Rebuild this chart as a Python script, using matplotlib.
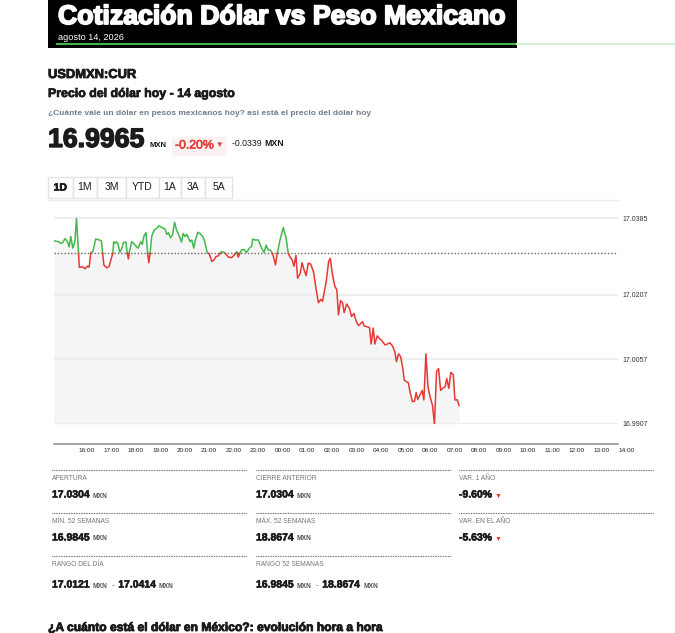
import numpy as np
import matplotlib
matplotlib.use("Agg")
import matplotlib.pyplot as plt
import matplotlib.patheffects as pe
from matplotlib.patches import Rectangle
from matplotlib.lines import Line2D

# datos USD/MXN intradía
times = [
    "15:00", "15:11", "15:16", "15:21", "15:27", "15:33", "15:37", "15:41", "15:46", "15:51",
    "15:55", "16:00", "16:02", "16:09", "16:16", "16:22", "16:26", "16:30", "16:35", "16:42",
    "16:48", "16:56", "16:59", "17:02", "17:09", "17:15", "17:19", "17:24", "17:26", "17:30",
    "17:33", "17:37", "17:41", "17:46", "17:50", "17:56", "17:59", "18:02", "18:04", "18:10",
    "18:16", "18:22", "18:26", "18:32", "18:36", "18:40", "18:45", "18:49", "18:52", "18:55",
    "18:59", "19:05", "19:11", "19:17", "19:24", "19:32", "19:36", "19:40", "19:45", "19:50",
    "19:55", "20:00", "20:07", "20:12", "20:16", "20:21", "20:25", "20:29", "20:33", "20:37",
    "20:42", "20:46", "20:52", "20:57", "21:04", "21:09", "21:15", "21:20", "21:26", "21:31",
    "21:36", "21:42", "21:50", "21:58", "22:07", "22:15", "22:19", "22:25", "22:27", "22:31",
    "22:35", "22:39", "22:45", "22:51", "22:58", "23:04", "23:06", "23:12", "23:20", "23:28",
    "23:34", "23:39", "23:44", "23:50", "23:55", "00:02", "00:06", "00:13", "00:21", "00:28",
    "00:33", "00:37", "00:43", "00:47", "00:52", "00:56", "01:02", "01:07", "01:12", "01:17",
    "01:22", "01:28", "01:35", "01:41", "01:47", "01:53", "01:57", "02:06", "02:12", "02:16",
    "02:21", "02:27", "02:32", "02:36", "02:41", "02:46", "02:50", "02:56", "03:03", "03:08",
    "03:14", "03:19", "03:25", "03:30", "03:35", "03:39", "03:47", "03:52", "03:56", "04:01",
    "04:05", "04:11", "04:16", "04:22", "04:30", "04:36", "04:42", "04:49", "04:54", "04:58",
    "05:03", "05:08", "05:13", "05:17", "05:23", "05:27", "05:31", "05:37", "05:42", "05:46",
    "05:50", "05:56", "06:01", "06:05", "06:10", "06:15", "06:20", "06:26", "06:31", "06:36",
    "06:41", "06:46", "06:51", "06:57", "07:01", "07:06", "07:11", "07:17", "07:21", "07:27",
    "07:31",
]
prices = [
    17.0333, 17.0331, 17.0327, 17.0329, 17.0338, 17.0331, 17.0319, 17.0343, 17.0316, 17.0331,
    17.0385, 17.0305, 17.0271, 17.0273, 17.0268, 17.0274, 17.0272, 17.0305, 17.0308, 17.0337,
    17.0336, 17.0333, 17.0305, 17.0277, 17.0270, 17.0274, 17.0288, 17.0305, 17.0331, 17.0327,
    17.0331, 17.0325, 17.0306, 17.0316, 17.0329, 17.0330, 17.0305, 17.0291, 17.0305, 17.0331,
    17.0326, 17.0319, 17.0316, 17.0331, 17.0325, 17.0344, 17.0352, 17.0305, 17.0282, 17.0303,
    17.0343, 17.0358, 17.0362, 17.0368, 17.0364, 17.0360, 17.0348, 17.0352, 17.0340, 17.0347,
    17.0376, 17.0358, 17.0343, 17.0330, 17.0350, 17.0343, 17.0348, 17.0340, 17.0331, 17.0335,
    17.0316, 17.0335, 17.0353, 17.0350, 17.0343, 17.0331, 17.0305, 17.0303, 17.0285, 17.0288,
    17.0296, 17.0298, 17.0308, 17.0305, 17.0295, 17.0294, 17.0298, 17.0305, 17.0308, 17.0295,
    17.0305, 17.0312, 17.0313, 17.0306, 17.0316, 17.0321, 17.0337, 17.0335, 17.0335, 17.0316,
    17.0306, 17.0323, 17.0312, 17.0311, 17.0303, 17.0277, 17.0303, 17.0335, 17.0364, 17.0339,
    17.0305, 17.0296, 17.0288, 17.0274, 17.0299, 17.0246, 17.0256, 17.0282, 17.0265, 17.0252,
    17.0281, 17.0279, 17.0261, 17.0223, 17.0189, 17.0197, 17.0192, 17.0238, 17.0285, 17.0292,
    17.0257, 17.0228, 17.0219, 17.0161, 17.0194, 17.0189, 17.0166, 17.0186, 17.0176, 17.0157,
    17.0164, 17.0147, 17.0136, 17.0140, 17.0145, 17.0135, 17.0133, 17.0131, 17.0093, 17.0130,
    17.0093, 17.0112, 17.0106, 17.0101, 17.0091, 17.0093, 17.0096, 17.0087, 17.0075, 17.0052,
    17.0070, 17.0064, 17.0040, 17.0009, 17.0005, 17.0003, 16.9982, 16.9959, 16.9960, 16.9980,
    16.9964, 16.9976, 16.9985, 16.9963, 17.0070, 16.9994, 16.9971, 16.9951, 16.9906, 17.0029,
    17.0036, 16.9985, 16.9990, 16.9994, 17.0013, 16.9990, 17.0027, 17.0022, 16.9963, 16.9963,
    16.9950,
]
prev_close = 17.0304
y_ticks = [16.9907, 17.0057, 17.0207, 17.0385]
x_labels = ["16:00", "17:00", "18:00", "19:00", "20:00", "21:00", "22:00", "23:00",
            "00:00", "01:00", "02:00", "03:00", "04:00", "05:00", "06:00", "07:00",
            "08:00", "09:00", "10:00", "11:00", "12:00", "13:00", "14:00"]
ranges = ["1D", "1M", "3M", "YTD", "1A", "3A", "5A"]

# tabla de datos
stat_labels = [["APERTURA", "MÍN. 52 SEMANAS", "RANGO DEL DÍA"],
               ["CIERRE ANTERIOR", "MÁX. 52 SEMANAS", "RANGO 52 SEMANAS"],
               ["VAR. 1 AÑO", "VAR. EN EL AÑO"]]
stat_values = [[["17.0304"], ["16.9845"], ["17.0121", "17.0414"]],
               [["17.0304"], ["18.8674"], ["16.9845", "18.8674"]]]
var_values = ["-9.60%", "-5.63%"]

W, H = 675, 633
GREEN = "#43b94d"
RED = "#e53935"
DARK = "#1b1b1b"

plt.rcParams["font.family"] = ["Liberation Sans", "DejaVu Sans"]

fig = plt.figure(figsize=(W / 100, H / 100), dpi=100)
renderer = fig.canvas.get_renderer()


def fx(x):
    return x / W


def fy(y):
    return 1 - y / H


def heavy(color, lw=0.5):
    return [pe.withStroke(linewidth=lw, foreground=color)]


def txt(x, y, s, stroke=0, **kw):
    kw.setdefault("va", "baseline")
    kw.setdefault("color", DARK)
    t = fig.text(fx(x), fy(y), s, **kw)
    if stroke:
        t.set_path_effects(heavy(kw["color"], stroke))
    return t


def after(t, gap=0):
    # devuelve x (pixeles) del final del texto
    return t.get_window_extent(renderer).x1 + gap


def hline(x0, x1, y, **kw):
    fig.add_artist(Line2D([fx(x0), fx(x1)], [fy(y), fy(y)], transform=fig.transFigure, **kw))


# cabecera negra
fig.add_artist(Rectangle((fx(48), fy(48)), (517 - 48) / W, 48 / H,
                         transform=fig.transFigure, color="black", lw=0))
txt(58, 24, "Cotización Dólar vs Peso Mexicano", color="white", fontsize=19.2,
    fontweight="bold", stroke=1.3)
txt(58, 40, "agosto 14, 2026", color="white", fontsize=6.6)
hline(57, 517, 43.5, color="#3db54a", lw=1.5)
hline(517, 675, 43.5, color="#d3efd7", lw=1.5)

txt(48, 78, "USDMXN:CUR", fontsize=9.3, fontweight="bold", stroke=0.6)
txt(48, 97, "Precio del dólar hoy - 14 agosto", fontsize=8.9, fontweight="bold", stroke=0.5)
txt(48, 115, "¿Cuánte vale un dólar en pesos mexicanos hoy? asi está el precio del dólar hoy",
    fontsize=6, fontweight="bold", color="#6f7d8c")

# precio actual
fig.add_artist(Rectangle((fx(172), fy(156)), 55 / W, 19 / H,
                         transform=fig.transFigure, color="#fdf2f2", lw=0))
txt(48, 147, "16.9965", fontsize=19.2, fontweight="bold", stroke=1.0)
txt(150, 147, "MXN", fontsize=5.6, fontweight="bold")
t = txt(175, 148.5, "-0.20%", fontsize=8.8, color=RED, stroke=0.4)
txt(after(t, 2), 147, "▼", fontsize=5.5, color=RED)
t = txt(232, 146.5, "-0.0339 ", fontsize=6.3)
txt(after(t), 146.5, "MXN", fontsize=6.3, fontweight="bold")

# botones de rango
edges = [48, 72.5, 97.5, 126, 158.5, 181, 205, 232]
for i, lab in enumerate(ranges):
    x0, x1 = edges[i], edges[i + 1]
    fig.add_artist(Rectangle((fx(x0), fy(197.5)), (x1 - x0) / W, 20.5 / H,
                             transform=fig.transFigure, facecolor="white",
                             edgecolor="#e3e3e3", lw=1))
    txt((x0 + x1) / 2, 187.5, lab, fontsize=7.5, ha="center", va="center",
        fontweight="bold" if lab == "1D" else "normal", stroke=0.5 if lab == "1D" else 0)
hline(48, 620, 199.5, color="#efefef", lw=1)

# gráfico
hrs = np.array([((int(s[:2]) * 60 + int(s[3:]) - 900) % 1440) / 60 for s in times])
vals = np.array(prices)

# insertar cruces con el cierre anterior para colorear
xs, ys = [hrs[0]], [vals[0]]
for i in range(1, len(hrs)):
    a, b = vals[i - 1] - prev_close, vals[i] - prev_close
    if a * b < 0:
        xc = hrs[i - 1] + (-a) / (b - a) * (hrs[i] - hrs[i - 1])
        xs.append(xc)
        ys.append(prev_close)
    xs.append(hrs[i])
    ys.append(vals[i])
xs, ys = np.array(xs), np.array(ys)

ax = fig.add_axes([fx(54), fy(424), (618 - 54) / W, (424 - 210) / H])
ax.set_xlim(0, 23)
ax.set_ylim(16.9907, 16.9907 + 214 / 4300)

ax.fill_between(xs, ys, 16.9907, color="#f5f5f5", lw=0, zorder=0.5)
for v in y_ticks:
    ax.axhline(v, color="#eeeeee", lw=1.6, zorder=1)
ax.axhline(prev_close, color="#666666", lw=1, ls=(0, (1, 1.4)), zorder=2)
ax.plot(xs, np.where(ys >= prev_close, ys, np.nan), color=GREEN, lw=1.1, zorder=3)
ax.plot(xs, np.where(ys <= prev_close, ys, np.nan), color=RED, lw=1.1, zorder=3)

for s in ["top", "left", "right"]:
    ax.spines[s].set_visible(False)
ax.spines["bottom"].set_position(("outward", 14.4))
ax.spines["bottom"].set_color("#8c8c8c")
ax.spines["bottom"].set_linewidth(1.1)

ax.set_xticks(np.arange(1, 24))
ax.set_xticklabels(x_labels, ha="left")
ax.tick_params(axis="x", length=0, pad=3, labelsize=4.6, labelcolor="#222222")
ax.yaxis.tick_right()
ax.set_yticks(y_ticks)
ax.set_yticklabels([f"{v:.4f}" for v in y_ticks])
ax.tick_params(axis="y", length=0, pad=3, labelsize=5, labelcolor="#333333")

# tabla
col_x = [52, 256, 459]
row_dot = [470, 513, 556]
row_val = [497.5, 540.5, 587.5]
for c, labs in enumerate(stat_labels):
    for r, lab in enumerate(labs):
        hline(col_x[c], col_x[c] + 194, row_dot[r], color="#333333", lw=0.8, ls=(0, (0.6, 0.9)))
        txt(col_x[c], row_dot[r] + 10, lab, fontsize=4.8, color="#777777")
        if c < 2:
            nums = stat_values[c][r]
            x = col_x[c]
            for k, n in enumerate(nums):
                t = txt(x, row_val[r], n, fontsize=7.5, fontweight="bold", stroke=0.4)
                t = txt(after(t, 3), row_val[r], "MXN", fontsize=4.8, fontweight="bold", color="#555555")
                x = after(t)
                if k == 0 and len(nums) > 1:
                    t = txt(x + 4, row_val[r], "-", fontsize=6, color="#555555")
                    x = after(t, 4)
        else:
            t = txt(col_x[c], row_val[r], var_values[r], fontsize=7.5, fontweight="bold", stroke=0.4)
            txt(after(t, 3), row_val[r], "▼", fontsize=5, color=RED)

txt(48, 631, "¿A cuánto está el dólar en México?: evolución hora a hora", fontsize=8.7,
    fontweight="bold", stroke=0.6)

fig.savefig("out.png", dpi=100)
